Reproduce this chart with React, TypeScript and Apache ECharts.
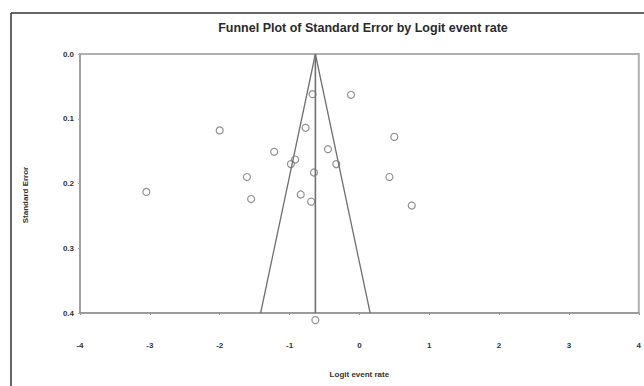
import React, { useEffect, useRef } from "react";
import * as echarts from "echarts";

// Study points: logit event rate (x) and standard error (y)
const logitRates = [
  -0.67, -0.12, -2.0, -0.77, 0.5, -1.22, -0.45, -0.92, -0.98, -0.33,
  -0.65, -1.61, 0.43, -3.05, -1.55, -0.84, -0.69, 0.75, -0.63,
];
const standardErrors = [
  0.062, 0.063, 0.118, 0.114, 0.128, 0.151, 0.147, 0.163, 0.17, 0.17,
  0.183, 0.19, 0.19, 0.213, 0.224, 0.217, 0.228, 0.234, 0.411,
];

// Funnel (pseudo 95% limits) vertices and the mean line
const funnelX = [-1.414, -0.63, 0.154];
const funnelY = [0.4, 0.0, 0.4];
const meanX = [-0.63, -0.63];
const meanY = [0.0, 0.4];

const xTicks = { min: -4, max: 4, interval: 1 };
const yTicks = { min: 0, max: 0.4, interval: 0.1 };

const titleText = "Funnel Plot of Standard Error by Logit event rate";
const xTitle = "Logit event rate";
const yTitle = "Standard Error";

const FONT = "Liberation Sans, Arial, sans-serif";

export default function App() {
  const ref = useRef<HTMLDivElement>(null);
  useEffect(() => {
    if (!ref.current) return;
    const chart = echarts.init(ref.current, null, { renderer: "svg" });
    const points = logitRates.map((x, i) => [x, standardErrors[i]]);
    const funnel = funnelX.map((x, i) => [x, funnelY[i]]);
    const mean = meanX.map((x, i) => [x, meanY[i]]);
    chart.setOption({
      animation: false,
      backgroundColor: "#fff",
      title: {
        text: titleText,
        left: 363,
        top: 21,
        padding: 0,
        textAlign: "center",
        textStyle: { fontFamily: FONT, fontSize: 12.5, fontWeight: "bold", color: "#2a2a2a" },
      },
      grid: {
        left: 80,
        top: 54,
        width: 563,
        height: 259,
        show: true,
        borderColor: "#b0b0b0",
        borderWidth: 2,
      },
      xAxis: {
        type: "value",
        min: xTicks.min,
        max: xTicks.max,
        interval: xTicks.interval,
        splitLine: { show: false },
        axisLine: { onZero: false, lineStyle: { color: "#9a9a9a", width: 2 } },
        axisTick: { show: true, length: 2, inside: false, lineStyle: { color: "#999" } },
        axisLabel: {
          margin: 28,
          fontFamily: FONT,
          fontSize: 8,
          fontWeight: "bold",
          color: "#333",
        },
        name: xTitle,
        nameLocation: "middle",
        nameGap: 57,
        nameTextStyle: { fontFamily: FONT, fontSize: 8, fontWeight: "bold", color: "#333" },
      },
      yAxis: {
        type: "value",
        inverse: true,
        min: yTicks.min,
        max: yTicks.max,
        interval: yTicks.interval,
        splitLine: { show: false },
        axisLine: { onZero: false, lineStyle: { color: "#a0a0a0", width: 2 } },
        axisTick: { show: true, length: 2, lineStyle: { color: "#aaa" } },
        axisLabel: {
          margin: 6,
          formatter: (v: number) => v.toFixed(1),
          fontFamily: FONT,
          fontSize: 8,
          fontWeight: "bold",
          color: "#333",
        },
      },
      graphic: [
        {
          type: "line",
          shape: { x1: 11, y1: 13, x2: 644, y2: 13 },
          style: { stroke: "#333", lineWidth: 1.5 },
        },
        {
          type: "line",
          shape: { x1: 11, y1: 13, x2: 11, y2: 386 },
          style: { stroke: "#333", lineWidth: 1.5 },
        },
        {
          type: "text",
          x: 25,
          y: 195,
          rotation: Math.PI / 2,
          style: {
            text: yTitle,
            align: "center",
            verticalAlign: "middle",
            fontFamily: FONT,
            fontSize: 8,
            fontWeight: "bold",
            fill: "#333",
          },
        },
      ],
      series: [
        {
          type: "line",
          data: funnel,
          symbol: "none",
          lineStyle: { color: "#707070", width: 1.3 },
          clip: false,
          z: 2,
        },
        {
          type: "line",
          data: mean,
          symbol: "none",
          lineStyle: { color: "#707070", width: 1.6 },
          clip: false,
          z: 2,
        },
        {
          type: "scatter",
          data: points,
          symbol: "circle",
          symbolSize: 7,
          clip: false,
          itemStyle: { color: "rgba(255,255,255,0)", borderColor: "#777", borderWidth: 1.2 },
          z: 3,
        },
      ],
    });
    return () => chart.dispose();
  }, []);
  return (
    <div
      ref={ref}
      style={{ position: "fixed", left: 0, top: 0, width: 644, height: 386, background: "#fff" }}
    />
  );
}
